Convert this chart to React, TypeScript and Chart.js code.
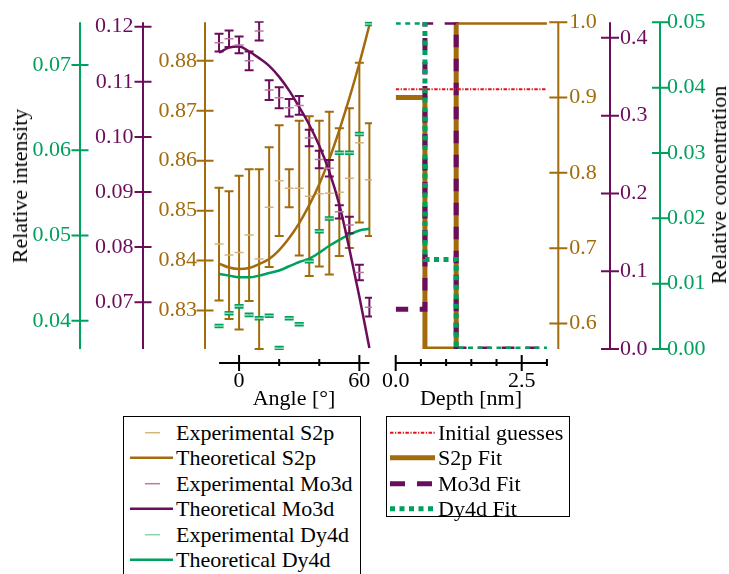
import React, { useEffect, useRef } from 'react';
import { Chart, registerables } from 'chart.js';

Chart.register(...registerables);

const FONT = "'Liberation Serif', 'Times New Roman', serif";
const GOLD = '#a26b0c';
const GOLD_LIGHT = '#d6b47c';
const PURPLE = '#6c0d5c';
const PURPLE_LIGHT = '#b97aab';
const GREEN = '#00a05d';
const GREEN_LIGHT = '#86d4ae';
const RED = '#e0141e';

// ---------- Left panel: angle-resolved relative intensities ----------
const angles = [-10, -5, 0, 5, 10, 15, 20, 25, 30, 35, 40, 45, 50, 55, 60, 65];

const expS2p = [0.8433, 0.8411, 0.8416, 0.8451, 0.8403, 0.8507, 0.856, 0.8545, 0.8545, 0.8529, 0.8534, 0.8535, 0.8537, 0.8565, 0.8636, 0.8562];
const errS2p = [0.0113, 0.0128, 0.0154, 0.0132, 0.018, 0.012, 0.0111, 0.0038, 0.0135, 0.016, 0.0146, 0.0163, 0.0128, 0.014, 0.016, 0.0113];

const expMo3d = [0.1171, 0.1178, 0.1167, 0.1138, 0.1192, 0.1085, 0.1071, 0.1053, 0.1057, 0.0998, 0.0959, 0.0943, 0.0864, 0.084, 0.0754, 0.0691];
const errMo3d = [0.0016, 0.0015, 0.0015, 0.0017, 0.0017, 0.0018, 0.0019, 0.0016, 0.0017, 0.0015, 0.0016, 0.0015, 0.0012, 0.0015, 0.0014, 0.0017];

const expDy4d = [0.0394, 0.0409, 0.0417, 0.0407, 0.0403, 0.0406, 0.0368, 0.0403, 0.0396, 0.047, 0.0505, 0.052, 0.0597, 0.0597, 0.0619, 0.0748];
const errDy4d = [0.00015, 0.00015, 0.00015, 0.00015, 0.00015, 0.00015, 0.00015, 0.00015, 0.00015, 0.00015, 0.00015, 0.00015, 0.00015, 0.00015, 0.00015, 0.00015];

const thS2p = [0.8394, 0.8386, 0.8383, 0.8385, 0.8393, 0.8403, 0.8421, 0.8445, 0.8475, 0.8511, 0.8553, 0.8603, 0.8661, 0.8725, 0.8795, 0.8871];
const thMo3d = [0.1153, 0.1162, 0.1164, 0.1155, 0.1143, 0.1129, 0.1109, 0.1084, 0.1054, 0.1022, 0.0984, 0.0937, 0.0877, 0.0797, 0.071, 0.0617];
const thDy4d = [0.0455, 0.0453, 0.0451, 0.0451, 0.0453, 0.0456, 0.0459, 0.0464, 0.0469, 0.0473, 0.048, 0.0488, 0.0495, 0.0501, 0.0506, 0.0508];

const angleTicks = [0, 20, 40, 60];
const angleLabelled = [0, 60];
const s2pIntTicks = [0.83, 0.84, 0.85, 0.86, 0.87, 0.88];
const mo3dIntTicks = [0.07, 0.08, 0.09, 0.1, 0.11, 0.12];
const dy4dIntTicks = [0.04, 0.05, 0.06, 0.07];

// ---------- Right panel: depth profile ----------
const depthX = [0, 0.58, 1.2, 3.0];
const fitS2p = [0.9, 0.566, 1.0, 1.0];
const fitMo3d = [0.051, 0.42, 0, 0];
const fitDy4d = [0.05, 0.0137, 0, 0];
const guessX = [0, 3.0];
const guessY = [0.911, 0.911];

const depthTicks = [0, 0.5, 1, 1.5, 2, 2.5, 3];
const depthLabelled = [0, 2.5];
const s2pConcTicks = [0.6, 0.7, 0.8, 0.9, 1.0];
const mo3dConcTicks = [0, 0.1, 0.2, 0.3, 0.4];
const dy4dConcTicks = [0, 0.01, 0.02, 0.03, 0.04, 0.05];

const pts = (xs: number[], ys: number[]) => xs.map((x, i) => ({ x, y: ys[i] }));

function makeAxesPlugin(cfg: any) {
  return {
    id: 'customAxes',
    afterDraw(chart: any) {
      const ctx = chart.ctx as CanvasRenderingContext2D;
      const area = chart.chartArea;
      ctx.save();
      ctx.lineWidth = 2;
      ctx.lineCap = 'butt';
      for (const s of cfg.y) {
        const sc = chart.scales[s.id];
        const x = s.side === 'left' ? sc.right : sc.left;
        ctx.strokeStyle = s.color;
        ctx.beginPath();
        ctx.moveTo(x, area.top);
        ctx.lineTo(x, area.bottom);
        for (const t of sc.ticks) {
          const py = sc.getPixelForValue(t.value);
          ctx.moveTo(x - s.tick, py);
          ctx.lineTo(x + s.tick, py);
        }
        ctx.stroke();
      }
      const xs = chart.scales.x;
      const y0 = area.bottom + cfg.xOffset;
      ctx.strokeStyle = '#000';
      ctx.beginPath();
      ctx.moveTo(xs.getPixelForValue(cfg.xFrom), y0);
      ctx.lineTo(xs.getPixelForValue(cfg.xTo), y0);
      for (const t of xs.ticks) {
        const px = xs.getPixelForValue(t.value);
        if (cfg.xMajor.includes(t.value)) {
          ctx.moveTo(px, y0 - 8);
          ctx.lineTo(px, y0 + 8);
        } else {
          ctx.moveTo(px, y0 - 4);
          ctx.lineTo(px, y0 + 3);
        }
      }
      ctx.stroke();
      ctx.restore();
    },
  };
}

const errorBarPlugin = {
  id: 'errorBars',
  beforeDatasetDraw(chart: any, args: any) {
    const ds = chart.data.datasets[args.index];
    if (!ds.errors) return;
    const meta = args.meta;
    const xs = chart.scales[meta.xAxisID];
    const ys = chart.scales[meta.yAxisID];
    const ctx = chart.ctx as CanvasRenderingContext2D;
    const a = chart.chartArea;
    const cap = ds.capHalf || 4.5;
    ctx.save();
    ctx.beginPath();
    ctx.rect(a.left, a.top - 1, a.right - a.left, a.bottom - a.top + 2);
    ctx.clip();
    ctx.strokeStyle = ds.errorColor;
    ctx.lineWidth = ds.errorWidth || 2;
    ctx.beginPath();
    ds.data.forEach((p: any, i: number) => {
      const e = ds.errors[i];
      const px = xs.getPixelForValue(p.x);
      const y1 = ys.getPixelForValue(p.y - e);
      const y2 = ys.getPixelForValue(p.y + e);
      ctx.moveTo(px, y1);
      ctx.lineTo(px, y2);
      ctx.moveTo(px - cap, y1);
      ctx.lineTo(px + cap, y1);
      ctx.moveTo(px - cap, y2);
      ctx.lineTo(px + cap, y2);
    });
    ctx.stroke();
    ctx.restore();
  },
};

const tickFont = { family: FONT, size: 22 };

function yScale(opts: any) {
  return {
    type: 'linear',
    position: opts.side,
    weight: opts.weight,
    min: opts.min,
    max: opts.max,
    grid: { display: false, drawTicks: true, tickLength: opts.padding },
    border: { display: false },
    afterBuildTicks: (scale: any) => {
      scale.ticks = opts.ticks.map((v: number) => ({ value: v }));
    },
    afterFit: (scale: any) => {
      scale.width = opts.width;
    },
    ticks: {
      color: opts.color,
      font: tickFont,
      padding: 0,
      autoSkip: false,
      callback: (v: number) => v.toFixed(opts.digits),
    },
  };
}

function xScale(opts: any) {
  return {
    type: 'linear',
    position: 'bottom',
    min: opts.min,
    max: opts.max,
    grid: { display: false, drawTicks: true, tickLength: 19.5 },
    border: { display: false },
    afterBuildTicks: (scale: any) => {
      scale.ticks = opts.ticks.map((v: number) => ({ value: v }));
    },
    afterFit: (scale: any) => {
      scale.height = 51;
    },
    ticks: {
      color: '#000',
      font: tickFont,
      padding: 0,
      autoSkip: false,
      maxRotation: 0,
      minRotation: 0,
      callback: (v: number) => (opts.labelled.includes(v) ? v.toFixed(opts.digits) : ''),
    },
  };
}

function expDataset(ys: number[], errs: number[], color: string, light: string, axis: string, order: number) {
  return {
    data: pts(angles, ys),
    errors: errs,
    errorColor: color,
    errorWidth: 2,
    capHalf: 4.5,
    yAxisID: axis,
    showLine: false,
    pointStyle: 'line',
    pointRadius: 4.5,
    pointBorderWidth: 1.5,
    pointBorderColor: light,
    pointBackgroundColor: light,
    order,
  };
}

function thDataset(ys: number[], color: string, axis: string, order: number) {
  return {
    data: pts(angles, ys),
    yAxisID: axis,
    borderColor: color,
    borderWidth: 2.5,
    pointRadius: 0,
    cubicInterpolationMode: 'monotone',
    fill: false,
    order,
  };
}

export default function App() {
  const leftRef = useRef<HTMLCanvasElement>(null);
  const rightRef = useRef<HTMLCanvasElement>(null);

  useEffect(() => {
    const left = new Chart(leftRef.current as HTMLCanvasElement, {
      type: 'line',
      data: {
        datasets: [
          expDataset(expDy4d, errDy4d, GREEN, GREEN_LIGHT, 'yDy4d', 0),
          expDataset(expMo3d, errMo3d, PURPLE, PURPLE_LIGHT, 'yMo3d', 1),
          thDataset(thMo3d, PURPLE, 'yMo3d', 2),
          thDataset(thDy4d, GREEN, 'yDy4d', 3),
          thDataset(thS2p, GOLD, 'yS2p', 4),
          expDataset(expS2p, errS2p, GOLD, GOLD_LIGHT, 'yS2p', 5),
        ] as any,
      },
      options: {
        animation: false,
        responsive: false,
        devicePixelRatio: 1,
        layout: { padding: { left: 0, top: 22.3, right: 8, bottom: 0 } },
        plugins: { legend: { display: false }, tooltip: { enabled: false } },
        scales: {
          x: xScale({ min: -17, max: 66.3, ticks: angleTicks, labelled: angleLabelled, digits: 0 }),
          yS2p: yScale({ side: 'left', weight: 0, min: 0.8223, max: 0.8877, ticks: s2pIntTicks, width: 62, padding: 8, color: GOLD, digits: 2 }),
          yMo3d: yScale({ side: 'left', weight: 1, min: 0.0615, max: 0.1208, ticks: mo3dIntTicks, width: 63, padding: 9.5, color: PURPLE, digits: 2 }),
          yDy4d: yScale({ side: 'left', weight: 2, min: 0.0367, max: 0.075, ticks: dy4dIntTicks, width: 80, padding: 9, color: GREEN, digits: 2 }),
        } as any,
      },
      plugins: [
        errorBarPlugin,
        makeAxesPlugin({
          y: [
            { id: 'yS2p', side: 'left', color: GOLD, tick: 8.5 },
            { id: 'yMo3d', side: 'left', color: PURPLE, tick: 8.5 },
            { id: 'yDy4d', side: 'left', color: GREEN, tick: 8.5 },
          ],
          xFrom: -10,
          xTo: 65,
          xMajor: angleLabelled,
          xOffset: 14,
        }),
      ],
    } as any);

    const right = new Chart(rightRef.current as HTMLCanvasElement, {
      type: 'line',
      data: {
        datasets: [
          {
            data: pts(guessX, guessY),
            yAxisID: 'rS2p',
            borderColor: RED,
            borderWidth: 2,
            borderDash: [3.5, 1.5, 1.2, 1.5],
            pointRadius: 0,
            fill: false,
            order: 0,
          },
          {
            data: pts(depthX, fitDy4d),
            yAxisID: 'rDy4d',
            borderColor: GREEN,
            borderWidth: 5,
            borderDash: [5, 4.5],
            borderCapStyle: 'butt',
            stepped: 'before',
            pointRadius: 0,
            fill: false,
            order: 1,
          },
          {
            data: pts(depthX, fitMo3d),
            yAxisID: 'rMo3d',
            borderColor: PURPLE,
            borderWidth: 5,
            borderDash: [12.5, 11.5],
            borderCapStyle: 'butt',
            stepped: 'before',
            pointRadius: 0,
            fill: false,
            order: 2,
          },
          {
            data: pts(depthX, fitS2p),
            yAxisID: 'rS2p',
            borderColor: GOLD,
            borderWidth: 5,
            stepped: 'before',
            pointRadius: 0,
            fill: false,
            order: 3,
          },
        ] as any,
      },
      options: {
        animation: false,
        responsive: false,
        devicePixelRatio: 1,
        layout: { padding: { left: 25.7, top: 22.3, right: 0, bottom: 0 } },
        plugins: { legend: { display: false }, tooltip: { enabled: false } },
        scales: {
          x: xScale({ min: 0, max: 3.226, ticks: depthTicks, labelled: depthLabelled, digits: 1 }),
          rS2p: yScale({ side: 'right', weight: 0, min: 0.566, max: 1.0, ticks: s2pConcTicks, width: 51.7, padding: 11, color: GOLD, digits: 1 }),
          rMo3d: yScale({ side: 'right', weight: 1, min: 0, max: 0.42, ticks: mo3dConcTicks, width: 50, padding: 10, color: PURPLE, digits: 1 }),
          rDy4d: yScale({ side: 'right', weight: 2, min: 0, max: 0.05, ticks: dy4dConcTicks, width: 69, padding: 7, color: GREEN, digits: 2 }),
        } as any,
      },
      plugins: [
        makeAxesPlugin({
          y: [
            { id: 'rS2p', side: 'right', color: GOLD, tick: 9 },
            { id: 'rMo3d', side: 'right', color: PURPLE, tick: 9 },
            { id: 'rDy4d', side: 'right', color: GREEN, tick: 8 },
          ],
          xFrom: 0,
          xTo: 3,
          xMajor: depthLabelled,
          xOffset: 14,
        }),
      ],
    } as any);

    return () => {
      left.destroy();
      right.destroy();
    };
  }, []);

  const textStyle: React.CSSProperties = {
    position: 'absolute',
    fontFamily: FONT,
    fontSize: 22,
    lineHeight: '22px',
    whiteSpace: 'nowrap',
    color: '#000',
  };

  const rowH = 25.4;
  const leftRows = [
    { label: 'Experimental S2p', color: GOLD_LIGHT, exp: true },
    { label: 'Theoretical S2p', color: GOLD, exp: false },
    { label: 'Experimental Mo3d', color: PURPLE_LIGHT, exp: true },
    { label: 'Theoretical Mo3d', color: PURPLE, exp: false },
    { label: 'Experimental Dy4d', color: GREEN_LIGHT, exp: true },
    { label: 'Theoretical Dy4d', color: GREEN, exp: false },
  ];
  const rightRows = [
    { label: 'Initial guesses', color: RED, width: 2, dash: '3.5 1.5 1.2 1.5' },
    { label: 'S2p Fit', color: GOLD, width: 5, dash: '' },
    { label: 'Mo3d Fit', color: PURPLE, width: 5, dash: '15 12' },
    { label: 'Dy4d Fit', color: GREEN, width: 5, dash: '5 4.5' },
  ];

  return (
    <div
      style={{
        position: 'absolute',
        left: 0,
        top: 0,
        width: 729,
        height: 574,
        overflow: 'hidden',
        background: '#fff',
        fontFamily: FONT,
      }}
    >
      <canvas
        ref={leftRef}
        width={380}
        height={400}
        style={{ position: 'absolute', left: 0, top: 0, width: 380, height: 400 }}
      />
      <canvas
        ref={rightRef}
        width={359}
        height={400}
        style={{ position: 'absolute', left: 370, top: 0, width: 359, height: 400 }}
      />

      <div style={{ ...textStyle, left: 19.5, top: 186, transform: 'translate(-50%, -50%) rotate(-90deg)' }}>
        Relative intensity
      </div>
      <div style={{ ...textStyle, left: 719, top: 185, transform: 'translate(-50%, -50%) rotate(-90deg)' }}>
        Relative concentration
      </div>
      <div style={{ ...textStyle, left: 294, top: 387, transform: 'translateX(-50%)' }}>Angle [°]</div>
      <div style={{ ...textStyle, left: 471, top: 387, transform: 'translateX(-50%)' }}>Depth [nm]</div>

      <div
        style={{
          position: 'absolute',
          left: 123,
          top: 416,
          width: 236,
          height: 180,
          border: '1px solid #000',
          background: '#fff',
        }}
      >
        {leftRows.map((r, i) => (
          <div key={r.label} style={{ position: 'absolute', left: 0, top: 2.9 + i * rowH, width: 236, height: rowH }}>
            <svg width={52} height={rowH} style={{ position: 'absolute', left: 0, top: 0 }}>
              {r.exp ? (
                <line x1={21} x2={36} y1={12.7} y2={12.7} stroke={r.color} strokeWidth={1.5} />
              ) : (
                <line x1={6} x2={49} y1={12.7} y2={12.7} stroke={r.color} strokeWidth={2.5} />
              )}
            </svg>
            <div style={{ ...textStyle, left: 52, top: 0, lineHeight: rowH + 'px' }}>{r.label}</div>
          </div>
        ))}
      </div>

      <div
        style={{
          position: 'absolute',
          left: 386,
          top: 416,
          height: 99,
          border: '1px solid #000',
          background: '#fff',
          paddingLeft: 51,
          paddingRight: 6,
          boxSizing: 'content-box',
        }}
      >
        <div style={{ position: 'relative', height: 99 }}>
          {rightRows.map((r, i) => (
            <div
              key={r.label}
              style={{
                position: 'relative',
                marginTop: i === 0 ? 2.9 : 0,
                height: rowH,
                lineHeight: rowH + 'px',
                fontSize: 22,
                fontFamily: FONT,
                whiteSpace: 'nowrap',
              }}
            >
              <svg width={52} height={rowH} style={{ position: 'absolute', left: -51, top: 0 }}>
                <line
                  x1={3}
                  x2={48}
                  y1={12.7}
                  y2={12.7}
                  stroke={r.color}
                  strokeWidth={r.width}
                  strokeDasharray={r.dash || undefined}
                />
              </svg>
              {r.label}
            </div>
          ))}
        </div>
      </div>
    </div>
  );
}
